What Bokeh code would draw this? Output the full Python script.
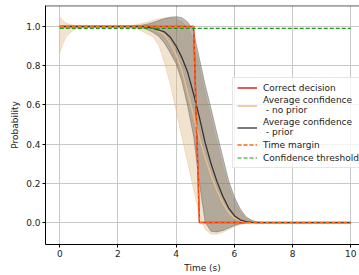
from bokeh.plotting import figure
from bokeh.models import FixedTicker, PrintfTickFormatter, Legend, LegendItem, Span, Range1d
from bokeh.embed import file_html
from bokeh.resources import INLINE

T = [0, 0.1, 0.25, 0.5, 0.75, 1.0, 1.5, 2.0, 2.2, 2.4, 2.6, 2.8, 3.0, 3.2, 3.4, 3.6, 3.8, 4.0,
     4.2, 4.4, 4.6, 4.8, 5.0, 5.2, 5.4, 5.6, 5.8, 6.0, 6.2, 6.4, 6.6, 6.8, 7.0, 8.0, 9.0, 10.0]

correct = [1, 1, 1, 1, 1, 1, 1, 1, 1, 1, 1, 1, 1, 1, 1, 1, 1, 1,
           1, 1, 1, 0, 0, 0, 0, 0, 0, 0, 0, 0, 0, 0, 0, 0, 0, 0]
margin = [1, 1, 1, 1, 1, 1, 1, 1, 1, 1, 1, 1, 1, 1, 1, 1, 1, 1,
          1, 1, 1, 0, 0, 0, 0, 0, 0, 0, 0, 0, 0, 0, 0, 0, 0, 0]
thr_t = [0, 10]
thr_v = [0.99, 0.99]

prior_mean = [1.0, 1.0, 1.0, 1.0, 1.0, 1.0, 1.0, 1.0, 1.0, 1.0, 1.0, 0.999, 0.997, 0.99, 0.982, 0.972, 0.945, 0.9,
              0.84, 0.765, 0.655, 0.535, 0.405, 0.3, 0.21, 0.135, 0.075, 0.035, 0.014, 0.005, 0.001, 0, 0, 0, 0, 0]
prior_upper = [1.0, 1.0, 1.0, 1.0, 1.0, 1.0, 1.0, 1.0, 1.0, 1.0, 1.002, 1.006, 1.012, 1.02, 1.03, 1.04, 1.047, 1.05,
               1.045, 1.022, 0.975, 0.835, 0.70, 0.58, 0.455, 0.335, 0.215, 0.13, 0.07, 0.03, 0.011, 0.003, 0, 0, 0, 0]
prior_lower = [1.0, 1.0, 1.0, 1.0, 1.0, 1.0, 1.0, 1.0, 1.0, 1.0, 1.0, 0.995, 0.985, 0.97, 0.95, 0.915, 0.865, 0.81,
               0.72, 0.59, 0.44, 0.2, 0.0, -0.045, -0.048, -0.04, -0.028, -0.015, -0.006, -0.002, 0, 0, 0, 0, 0, 0]

noprior_mean = [0.99, 0.995, 0.998, 1.0, 1.0, 1.0, 1.0, 1.0, 1.0, 1.0, 1.0, 0.998, 0.995, 0.988, 0.975, 0.958, 0.915, 0.855,
                0.775, 0.66, 0.545, 0.43, 0.33, 0.24, 0.165, 0.1, 0.052, 0.024, 0.009, 0.003, 0, 0, 0, 0, 0, 0]
noprior_upper = [1.05, 1.03, 1.015, 1.004, 1.001, 1.0, 1.0, 1.0, 1.001, 1.003, 1.008, 1.015, 1.022, 1.031, 1.038, 1.043, 1.045, 1.04,
                 1.025, 0.995, 0.93, 0.79, 0.655, 0.535, 0.41, 0.29, 0.185, 0.105, 0.055, 0.022, 0.007, 0.001, 0, 0, 0, 0]
noprior_lower = [0.865, 0.91, 0.955, 0.985, 0.996, 0.999, 1.0, 1.0, 1.0, 0.997, 0.99, 0.978, 0.962, 0.948, 0.905, 0.815, 0.705, 0.57,
                 0.435, 0.305, 0.17, 0.04, -0.035, -0.058, -0.06, -0.05, -0.036, -0.021, -0.01, -0.003, 0, 0, 0, 0, 0, 0]

x_ticks = [0, 2, 4, 6, 8, 10]
y_ticks = [0.0, 0.2, 0.4, 0.6, 0.8, 1.0]

FONT = "DejaVu Sans"

p = figure(width=359, height=275, output_backend="svg", toolbar_location=None,
           x_range=Range1d(-0.49, 10.3), y_range=Range1d(-0.112, 1.107),
           min_border_left=45, min_border_right=0, min_border_top=5, min_border_bottom=31)
p.outline_line_color = None
p.background_fill_color = "white"

# bands
p.varea(x=T, y1=noprior_lower, y2=noprior_upper, fill_color="#deb887", fill_alpha=0.4)
p.line(T, noprior_upper, line_color="#deb887", line_alpha=0.4, line_width=1)
p.line(T, noprior_lower, line_color="#deb887", line_alpha=0.4, line_width=1)
p.varea(x=T, y1=prior_lower, y2=prior_upper, fill_color="#55524c", fill_alpha=0.4)
p.line(T, prior_upper, line_color="#55524c", line_alpha=0.4, line_width=1)
p.line(T, prior_lower, line_color="#55524c", line_alpha=0.4, line_width=1)

r_correct = p.line(T, correct, line_color="#e02020", line_width=1.5)
r_noprior = p.line(T, noprior_mean, line_color="#e8bd8c", line_width=1.5)
r_prior = p.line(T, prior_mean, line_color="#333333", line_width=1.3)
r_margin = p.line(T, margin, line_color="#ff6a10", line_width=1.5, line_dash="4 2")
r_thr = p.line(thr_t, thr_v, line_color="#1f9a1f", line_width=1.2, line_dash="4 2")

# top spine
p.add_layout(Span(location=1.1055, dimension="width", line_color="black", line_width=1))

# axes
for ax in (p.xaxis[0], p.yaxis[0]):
    ax.axis_line_color = "black"
    ax.axis_line_width = 1
    ax.major_tick_line_color = "black"
    ax.major_tick_out = 3
    ax.major_tick_in = 0
    ax.minor_tick_out = 0
    ax.minor_tick_in = 0
    ax.major_label_standoff = 2
    ax.axis_label_standoff = 3
    ax.major_label_text_font = FONT
    ax.major_label_text_font_size = "9px"
    ax.major_label_text_color = "#222222"
    ax.axis_label_text_font = FONT
    ax.axis_label_text_font_size = "9px"
    ax.axis_label_text_font_style = "normal"
    ax.axis_label_text_color = "#222222"

p.xaxis.ticker = FixedTicker(ticks=x_ticks)
p.xaxis.formatter = PrintfTickFormatter(format="%d")
p.yaxis.ticker = FixedTicker(ticks=y_ticks)
p.yaxis.formatter = PrintfTickFormatter(format="%.1f")
p.xaxis.axis_label = "Time (s)"
p.yaxis.axis_label = "Probability"

p.xgrid.ticker = FixedTicker(ticks=x_ticks)
p.ygrid.ticker = FixedTicker(ticks=y_ticks)
p.grid.grid_line_color = "#c8c8c8"
p.grid.grid_line_width = 1

legend = Legend(items=[
    LegendItem(label="Correct decision", renderers=[r_correct]),
    LegendItem(label="Average confidence\n - no prior", renderers=[r_noprior]),
    LegendItem(label="Average confidence\n - prior", renderers=[r_prior]),
    LegendItem(label="Time margin", renderers=[r_margin]),
    LegendItem(label="Confidence threshold", renderers=[r_thr]),
], location=(187, 76))
legend.label_text_font = FONT
legend.label_text_font_size = "9px"
legend.label_text_color = "#222222"
legend.label_height = 11
legend.glyph_height = 11
legend.glyph_width = 20
legend.label_standoff = 6
legend.spacing = 2
legend.padding = 4
legend.margin = 0
legend.border_line_color = "#cccccc"
legend.background_fill_alpha = 0.8
p.add_layout(legend)

open("out.html", "w").write(file_html(p, INLINE))
